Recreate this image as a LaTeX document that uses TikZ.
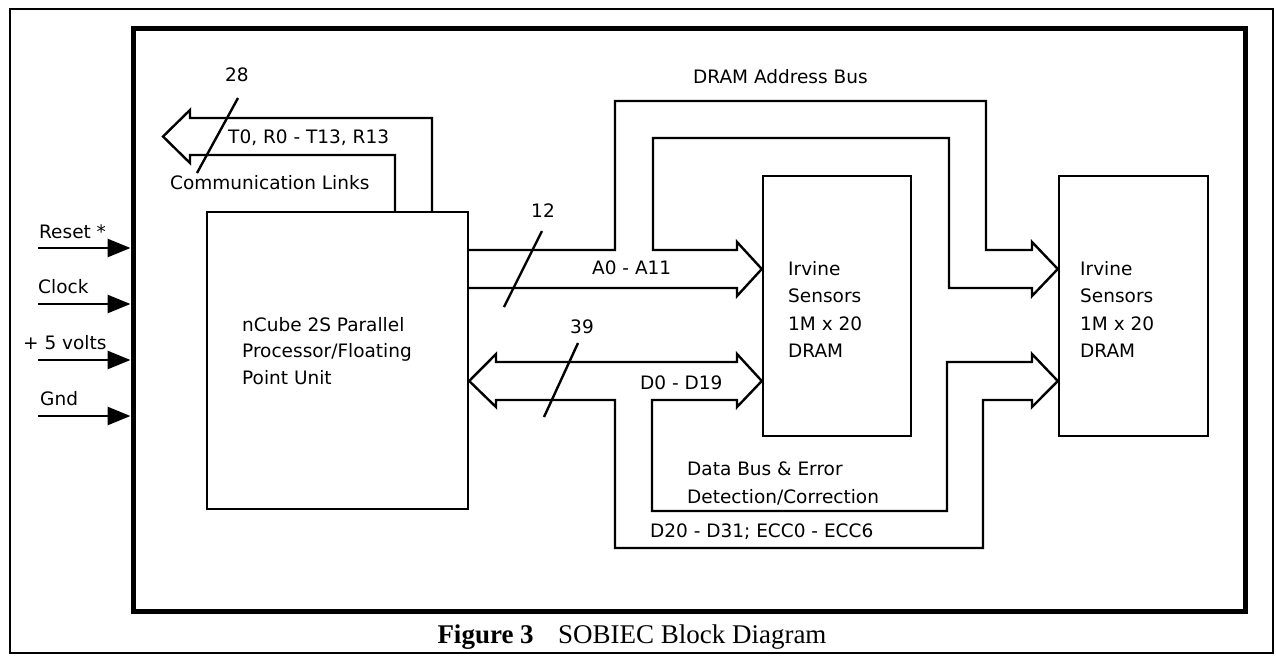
\documentclass[tikz,border=0pt]{standalone}
\usepackage{fontspec}
\setmainfont{DejaVu Sans}
\newfontfamily\legende{Liberation Serif}
\usetikzlibrary{arrows.meta}

\begin{document}
\begin{tikzpicture}[x=1pt,y=-1pt,
        txt/.style={inner sep=0pt,font=\fontsize{18.5}{27.5}\selectfont},
        boite/.style={draw,line width=2.4pt,inner sep=0pt},
        bus/.style={line width=2.4pt,line join=miter},
        entree/.style={line width=2.8pt,-{Triangle[length=23pt,width=18pt]}},
        barre/.style={line width=2.4pt}]
            \useasboundingbox (0,0) rectangle (1276,656);

            % Le cadre extérieur
            \draw[line width=2pt] (10,9) rectangle (1273,653);

            % La carte (cadre épais)
            \node[boite,line width=5pt,minimum width=1112pt,minimum height=583pt] (carte) at (689,319.5) {};

            % Les blocs
            \node[boite,minimum width=261pt,minimum height=297pt] (proc) at (337.5,360.5) {};
            \node[boite,minimum width=148pt,minimum height=260pt] (dram1) at (837,306) {};
            \node[boite,minimum width=149pt,minimum height=260pt] (dram2) at (1133.5,306) {};

            \node[txt,align=left,anchor=west,font=\fontsize{18.5}{26.5}\selectfont] (procTxt) at (242,351) {nCube 2S Parallel\\Processor/Floating\\Point Unit};
            \node[txt,align=left,anchor=west] (dramTxtA) at (788,309.5) {Irvine\\Sensors\\1M x 20\\DRAM};
            \node[txt,align=left,anchor=west] (dramTxtB) at (1080,309.5) {Irvine\\Sensors\\1M x 20\\DRAM};

            % Les entrées (gauche)
            \coordinate (inReset) at (38,248);
            \coordinate (inClock) at (38,304);
            \coordinate (inVcc) at (38,360);
            \coordinate (inGnd) at (38,416);
            \draw[entree] (inReset) -- (inReset -| carte.west);
            \draw[entree] (inClock) -- (inClock -| carte.west);
            \draw[entree] (inVcc) -- (inVcc -| carte.west);
            \draw[entree] (inGnd) -- (inGnd -| carte.west);
            \node[txt,anchor=west] (lblReset) at (39,232) {Reset *};
            \node[txt,anchor=west] (lblClock) at (38,287) {Clock};
            \node[txt,anchor=west] (lblVcc) at (23,343) {+ 5 volts};
            \node[txt,anchor=west] (lblGnd) at (40,399) {Gnd};

            % Liens de communication (vers la gauche)
            \draw[bus] (432,0 |- proc.north) -- (432,118) -- (190,118) -- (190,110) -- (163,136.5)
                -- (190,163) -- (190,155) -- (395,155) -- (395,0 |- proc.north);
            \node[txt] (n28) at (237,75) {28};
            \draw[barre] (238,98) -- (197,173);
            \node[txt,anchor=west] (lblLiens) at (228,138) {T0, R0 - T13, R13};
            \node[txt,anchor=west] (lblComm) at (170,183) {Communication Links};

            % Bus d'adresses
            \draw[bus] (proc.east |- 0,250) -- (615,250) -- (615,101) -- (986,101) -- (986,250)
                -- (1032,250) -- (1032,242) -- (dram2.west |- 0,269) -- (1032,296) -- (1032,288)
                -- (949,288) -- (949,138) -- (653,138) -- (653,250) -- (737,250) -- (737,242)
                -- (dram1.west |- 0,269) -- (737,296) -- (737,288) -- (proc.east |- 0,288);
            \node[txt] (n12) at (543,211) {12};
            \draw[barre] (542,231) -- (504,307);
            \node[txt,anchor=west] (lblAdr) at (693,77) {DRAM Address Bus};
            \node[txt,anchor=west] (lblA) at (592,268) {A0 - A11};

            % Bus de données (double sens)
            \draw[bus] (737,362) -- (496,362) -- (496,354) -- (proc.east |- 0,381) -- (496,407)
                -- (496,400) -- (615,400) -- (615,548) -- (983,548) -- (983,400) -- (1032,400)
                -- (1032,407) -- (dram2.west |- 0,381) -- (1032,354) -- (1032,362) -- (947,362)
                -- (947,511) -- (652,511) -- (652,400) -- (737,400) -- (737,407)
                -- (dram1.west |- 0,381) -- (737,354) -- cycle;
            \node[txt] (n39) at (582,327) {39};
            \draw[barre] (578,343) -- (544,417);
            \node[txt,anchor=west] (lblD) at (640,383) {D0 - D19};
            \node[txt,align=left,anchor=west] (lblData) at (687,483.5) {Data Bus \& Error\\Detection/Correction};
            \node[txt,anchor=west] (lblEcc) at (650,532) {D20 - D31; ECC0 - ECC6};

            % La légende
            \node[inner sep=0pt,font=\legende\fontsize{27}{32}\selectfont] (titre) at (632,637) {\textbf{Figure 3}\hspace{0.9em}SOBIEC Block Diagram};
        \end{tikzpicture}
\end{document}
